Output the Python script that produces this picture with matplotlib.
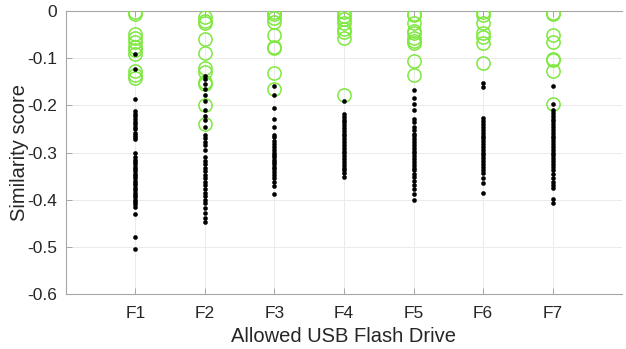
import matplotlib
matplotlib.use("Agg")
import matplotlib.pyplot as plt

plt.rcParams['font.family'] = ['Liberation Sans', 'DejaVu Sans']

drives = ["F1", "F2", "F3", "F4", "F5", "F6", "F7"]

# Green open circles (highlighted scores) per drive
green = {
    "F1": [-0.002, -0.006, -0.049, -0.058, -0.066, -0.075, -0.083, -0.090, -0.128, -0.135, -0.142],
    "F2": [-0.012, -0.020, -0.025, -0.059, -0.089, -0.120, -0.129, -0.151, -0.155, -0.200, -0.240],
    "F3": [-0.001, -0.006, -0.015, -0.022, -0.051, -0.076, -0.079, -0.132, -0.166],
    "F4": [-0.002, -0.010, -0.016, -0.026, -0.037, -0.044, -0.056, -0.177],
    "F5": [-0.005, -0.008, -0.026, -0.042, -0.047, -0.058, -0.063, -0.068, -0.106, -0.136],
    "F6": [-0.002, -0.008, -0.026, -0.047, -0.055, -0.068, -0.109],
    "F7": [-0.003, -0.005, -0.051, -0.065, -0.102, -0.104, -0.127, -0.196],
}

# Black dots (remaining scores) per drive
black = {
    "F1": [-0.090, -0.122, -0.187, -0.212, -0.218, -0.222, -0.228, -0.235, -0.240, -0.245,
           -0.250, -0.258, -0.262, -0.268, -0.272, -0.300, -0.310, -0.315, -0.320, -0.325,
           -0.330, -0.335, -0.340, -0.345, -0.350, -0.355, -0.360, -0.365, -0.370, -0.375,
           -0.380, -0.385, -0.390, -0.395, -0.400, -0.405, -0.410, -0.415, -0.430, -0.480, -0.505],
    "F2": [-0.138, -0.145, -0.155, -0.165, -0.178, -0.190, -0.210, -0.222, -0.230, -0.245,
           -0.263, -0.270, -0.278, -0.285, -0.295, -0.310, -0.318, -0.325, -0.333, -0.340,
           -0.348, -0.355, -0.362, -0.370, -0.378, -0.385, -0.392, -0.400, -0.408, -0.418,
           -0.428, -0.440, -0.448],
    "F3": [-0.159, -0.177, -0.205, -0.229, -0.245, -0.262, -0.268, -0.275, -0.282, -0.288,
           -0.295, -0.300, -0.305, -0.310, -0.315, -0.320, -0.325, -0.330, -0.336, -0.342,
           -0.348, -0.355, -0.362, -0.372, -0.388],
    "F4": [-0.190, -0.218, -0.224, -0.230, -0.236, -0.242, -0.248, -0.254, -0.260, -0.266,
           -0.272, -0.278, -0.284, -0.290, -0.296, -0.302, -0.308, -0.314, -0.320, -0.326,
           -0.332, -0.338, -0.344, -0.352],
    "F5": [-0.168, -0.185, -0.196, -0.210, -0.228, -0.236, -0.245, -0.252, -0.260, -0.266,
           -0.272, -0.278, -0.284, -0.290, -0.296, -0.302, -0.308, -0.314, -0.320, -0.326,
           -0.332, -0.338, -0.345, -0.352, -0.360, -0.368, -0.378, -0.387, -0.400],
    "F6": [-0.152, -0.162, -0.227, -0.233, -0.240, -0.246, -0.252, -0.258, -0.264, -0.270,
           -0.276, -0.282, -0.288, -0.294, -0.300, -0.306, -0.312, -0.318, -0.324, -0.330,
           -0.337, -0.344, -0.354, -0.365, -0.385],
    "F7": [-0.159, -0.198, -0.210, -0.216, -0.222, -0.228, -0.234, -0.240, -0.246, -0.252,
           -0.258, -0.264, -0.270, -0.276, -0.282, -0.288, -0.294, -0.300, -0.306, -0.312,
           -0.318, -0.324, -0.330, -0.338, -0.346, -0.354, -0.362, -0.370, -0.376, -0.399, -0.407],
}

y_ticks = [0, -0.1, -0.2, -0.3, -0.4, -0.5, -0.6]
y_tick_labels = ["0", "-0.1", "-0.2", "-0.3", "-0.4", "-0.5", "-0.6"]

fig = plt.figure(figsize=(6.26, 3.49), dpi=100)
ax = fig.add_axes([0.105, 0.158, 0.889, 0.810])

text_color = "#262626"
axis_color = "#a6a6a6"

for i, d in enumerate(drives, start=1):
    ax.plot([i] * len(green[d]), green[d], linestyle="none", marker="o",
            markersize=9.5, markerfacecolor="none", markeredgecolor="#7ee83f",
            markeredgewidth=1.1, zorder=3)
    ax.plot([i] * len(black[d]), black[d], linestyle="none", marker="o",
            markersize=3.0, markerfacecolor="black", markeredgecolor="black",
            markeredgewidth=0.3, zorder=4)

ax.set_xlim(0, 8)
ax.set_ylim(-0.6, 0)
ax.set_xticks(range(1, len(drives) + 1))
ax.set_xticklabels(drives)
ax.set_yticks(y_ticks)
ax.set_yticklabels(y_tick_labels)

ax.grid(True, color="#ebebeb", linewidth=0.7)
ax.set_axisbelow(True)
for s in ax.spines.values():
    s.set_color(axis_color)
    s.set_linewidth(0.8)
ax.spines["right"].set_visible(False)

ax.tick_params(direction="in", length=4, width=0.7, color=axis_color,
               labelcolor=text_color, labelsize=12.5, top=True, right=False)
ax.tick_params(axis="x", pad=9)
ax.tick_params(axis="y", pad=6)

ax.set_xlabel("Allowed USB Flash Drive", fontsize=14.5, color=text_color, labelpad=4)
ax.set_ylabel("Similarity score", fontsize=14.5, color=text_color)
ax.yaxis.set_label_coords(-0.066, 0.5)

fig.savefig("out.png", dpi=100)
